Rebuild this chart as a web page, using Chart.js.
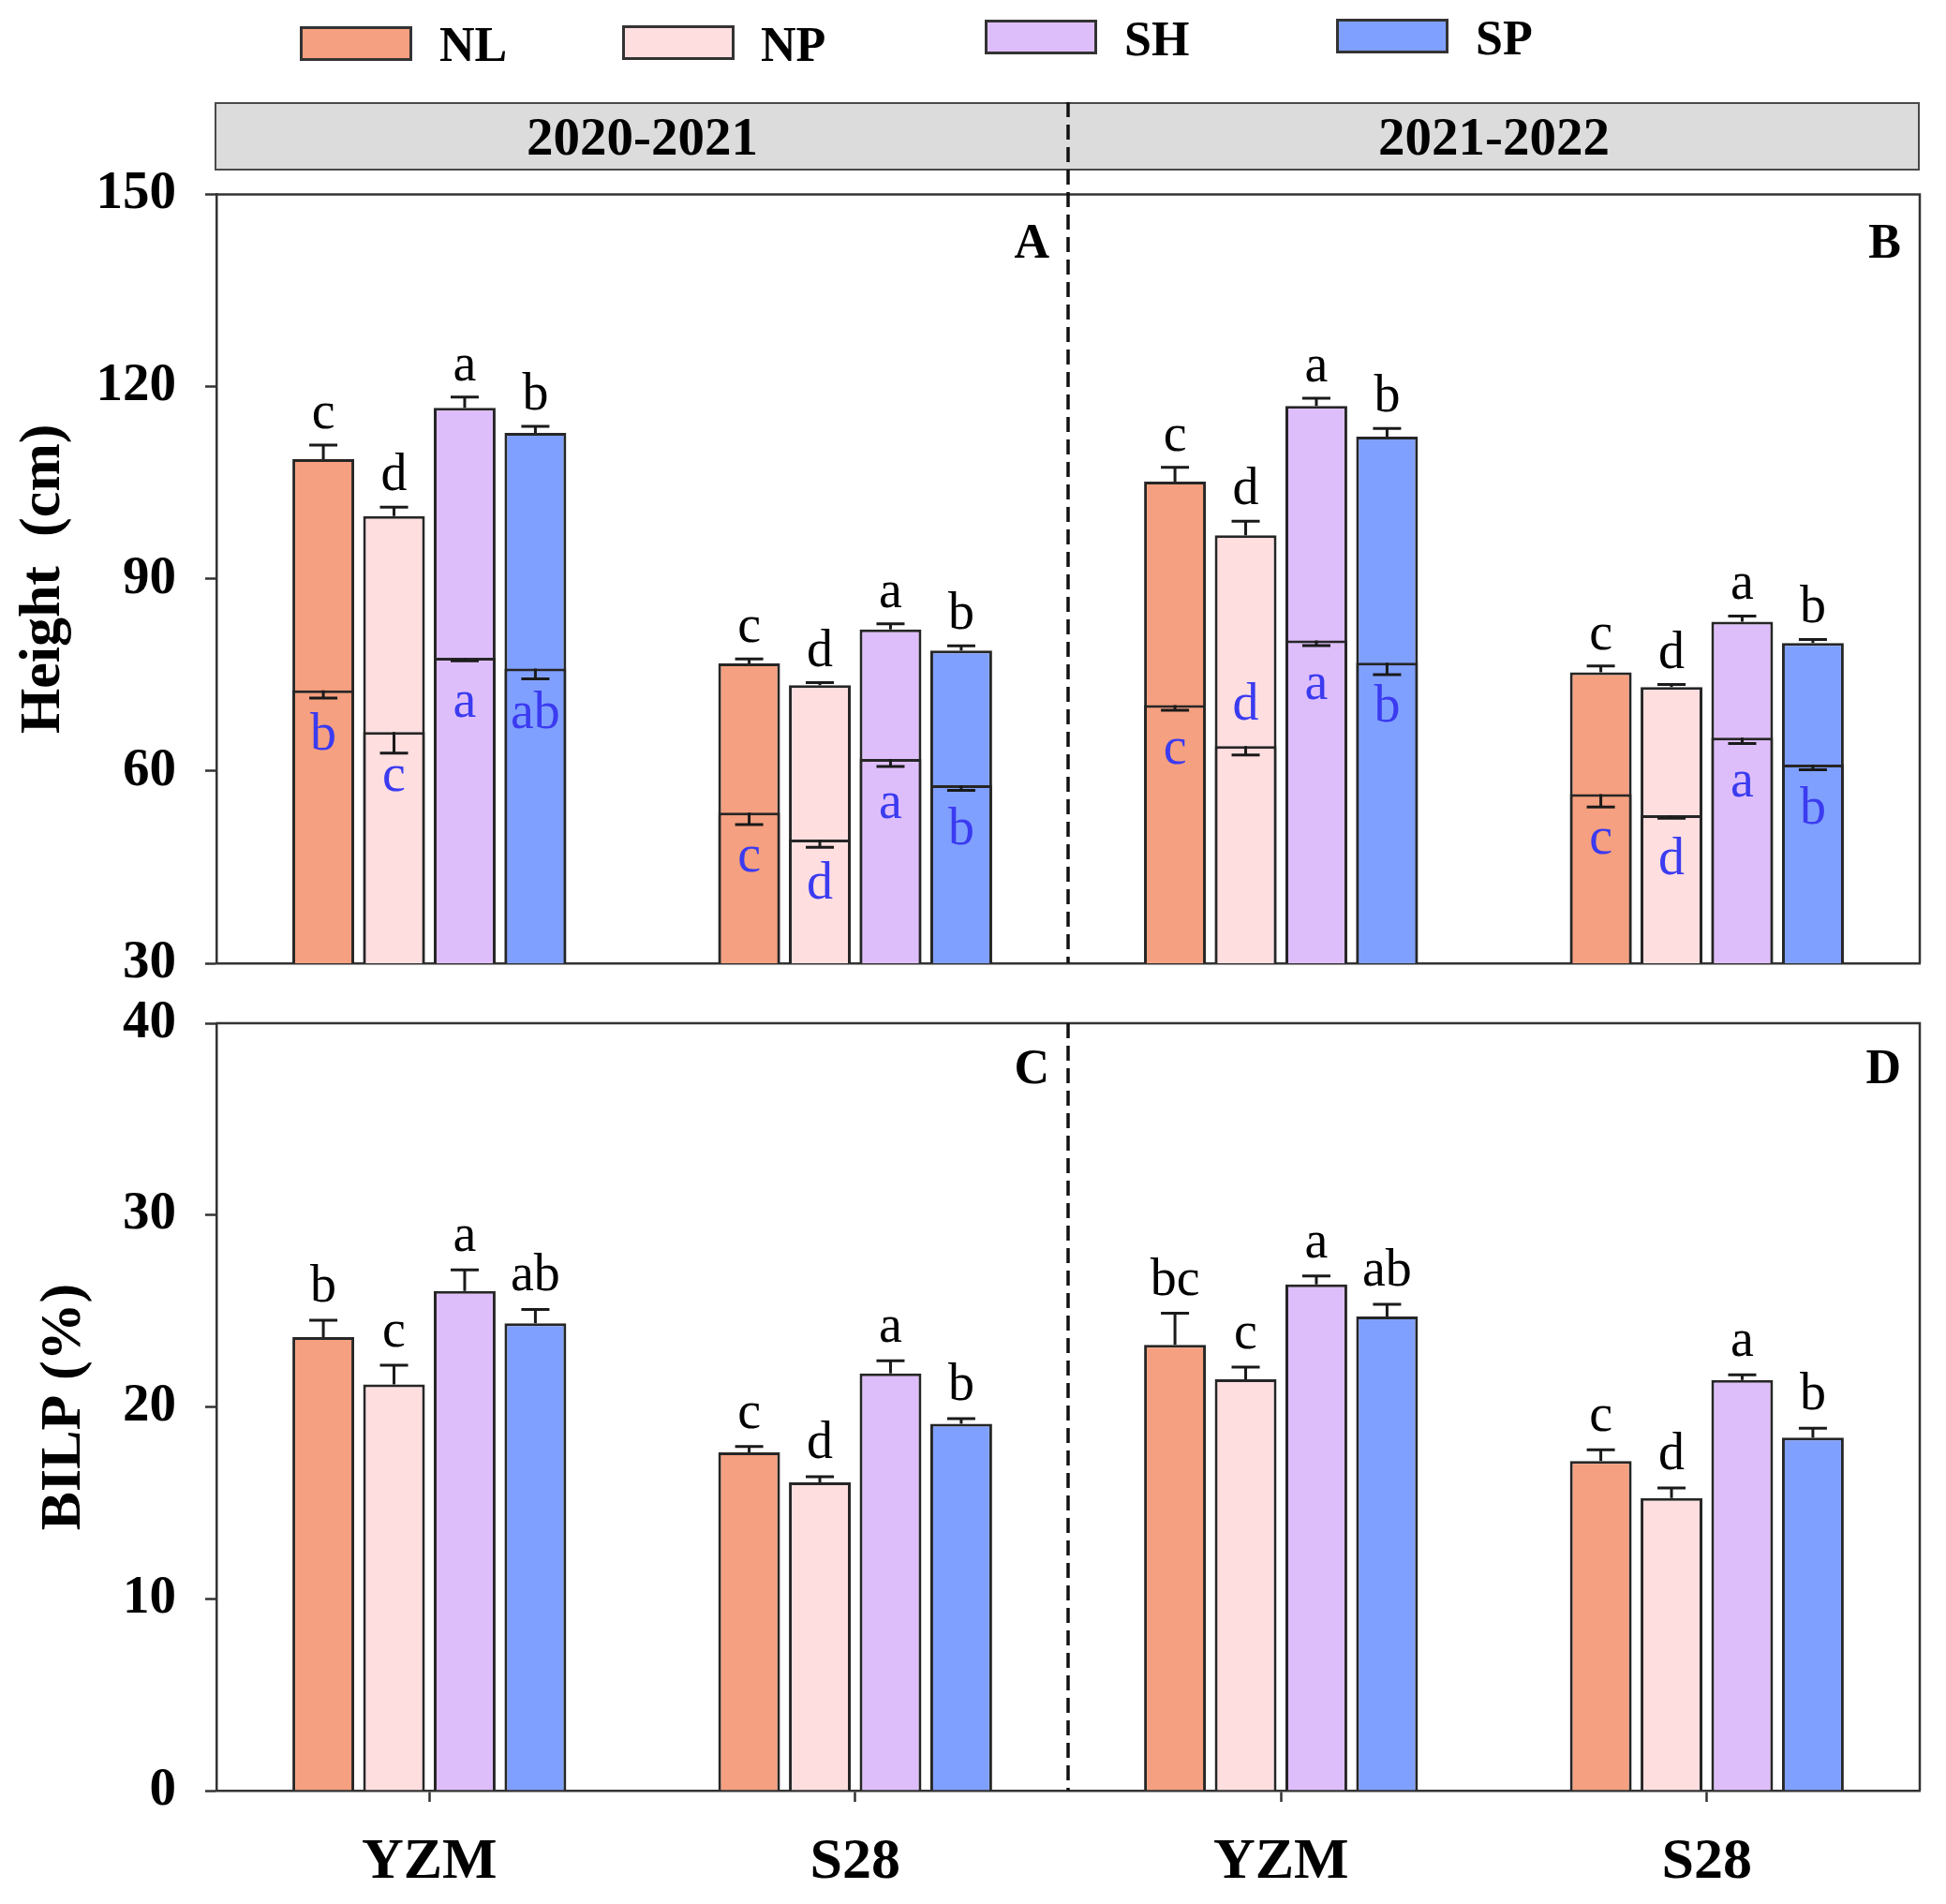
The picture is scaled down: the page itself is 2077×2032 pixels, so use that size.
<!DOCTYPE html>
<html>
<head>
<meta charset="utf-8">
<script src="https://cdn.jsdelivr.net/npm/chart.js@4.4.1/dist/chart.umd.min.js"></script>
<style>
html, body { margin: 0; padding: 0; background: #fff; }
#wrap { position: relative; width: 2077px; height: 2032px; overflow: hidden; font-family: "Liberation Serif", "Times New Roman", serif; }
.strip { position: absolute; left: 229px; top: 109px; width: 1820px; height: 73px; background: #dcdcdc; border: 2px solid #4a4a4a; box-sizing: border-box; z-index: 0; }
.stripText { position: absolute; top: 109px; height: 73px; line-height: 73px; font-weight: bold; font-size: 57px; text-align: center; color: #000; z-index: 2; }
.legBox { position: absolute; width: 120px; height: 37px; border: 3px solid #333; box-sizing: border-box; z-index: 2; }
.legText { position: absolute; font-weight: bold; font-size: 52px; line-height: 52px; color: #000; z-index: 2; }
canvas { position: absolute; left: 0; z-index: 1; }
#c1 { top: 0; }
#c2 { top: 1020px; }
</style>
</head>
<body>
<div id="wrap">
  <div class="strip"></div>
  <canvas id="c1" width="2077" height="1100" style="width:2077px;height:1100px"></canvas>
  <canvas id="c2" width="2077" height="1012" style="width:2077px;height:1012px"></canvas>
</div>
<script>
// ---------------- data ----------------
const categories = ['YZM', 'S28', 'YZM', 'S28'];
const seasons = ['2020-2021', '2021-2022'];
const treatments = ['NL', 'NP', 'SH', 'SP'];

// Plant height (cm) - full bar
const heightNL = [108.7, 76.8, 105.2, 75.4];
const heightNP = [99.8, 73.4, 96.8, 73.1];
const heightSH = [116.7, 82.1, 117.0, 83.3];
const heightSP = [112.8, 78.8, 112.2, 80.0];
const heightErrNL = [2.2, 0.7, 2.2, 1.0];
const heightErrNP = [1.4, 0.4, 2.2, 0.4];
const heightErrSH = [1.7, 0.9, 1.2, 0.9];
const heightErrSP = [1.0, 0.75, 1.3, 0.55];
const heightLetNL = ['c', 'c', 'c', 'c'];
const heightLetNP = ['d', 'd', 'd', 'd'];
const heightLetSH = ['a', 'a', 'a', 'a'];
const heightLetSP = ['b', 'b', 'b', 'b'];

// Inner (lower) height (cm)
const innerNL = [72.6, 53.5, 70.3, 56.4];
const innerNP = [66.1, 49.3, 63.9, 53.1];
const innerSH = [77.7, 61.9, 80.4, 65.2];
const innerSP = [76.0, 57.8, 76.9, 61.0];
const innerErrNL = [1.2, 1.85, 0.8, 2.0];
const innerErrNP = [3.3, 1.2, 1.4, 0.45];
const innerErrSH = [0.5, 1.2, 0.8, 0.9];
const innerErrSP = [1.6, 0.8, 1.85, 0.8];
const innerLetNL = ['b', 'c', 'c', 'c'];
const innerLetNP = ['c', 'd', 'd', 'd'];
const innerLetSH = ['a', 'a', 'a', 'a'];
const innerLetSP = ['ab', 'b', 'b', 'b'];

// BILP (%)
const bilpNL = [23.64, 17.63, 23.23, 17.18];
const bilpNP = [21.17, 16.07, 21.44, 15.25];
const bilpSH = [26.05, 21.75, 26.38, 21.40];
const bilpSP = [24.36, 19.12, 24.71, 18.40];
const bilpErrNL = [0.88, 0.31, 1.65, 0.58];
const bilpErrNP = [1.0, 0.29, 0.64, 0.53];
const bilpErrSH = [1.09, 0.66, 0.45, 0.27];
const bilpErrSP = [0.72, 0.27, 0.64, 0.49];
const bilpLetNL = ['b', 'c', 'bc', 'c'];
const bilpLetNP = ['c', 'd', 'c', 'd'];
const bilpLetSH = ['a', 'a', 'a', 'a'];
const bilpLetSP = ['ab', 'b', 'ab', 'b'];

const heightTicks = [30, 60, 90, 120, 150];
const bilpTicks = [0, 10, 20, 30, 40];
const panelTop = ['A', 'B'];
const panelBottom = ['C', 'D'];

// ---------------- style ----------------
const FONT = '"Liberation Serif", "Times New Roman", serif';
const colors = { NL: '#F5A080', NP: '#FFDEE0', SH: '#DEBEFA', SP: '#80A0FF' };
const EDGE = '#262626';
const AXIS = '#333333';
const LETTER_BLUE = '#3b3bf0';
const CAT_PCT = 0.664, BAR_PCT = 0.874;
// blue letter placed above the inner line for these bars
const innerAbove = { NL: [false, false, false, false], NP: [false, false, true, false], SH: [false, false, false, false], SP: [false, false, false, false] };

const heightAll = { NL: heightNL, NP: heightNP, SH: heightSH, SP: heightSP };
const heightErr = { NL: heightErrNL, NP: heightErrNP, SH: heightErrSH, SP: heightErrSP };
const heightLet = { NL: heightLetNL, NP: heightLetNP, SH: heightLetSH, SP: heightLetSP };
const innerAll = { NL: innerNL, NP: innerNP, SH: innerSH, SP: innerSP };
const innerErr = { NL: innerErrNL, NP: innerErrNP, SH: innerErrSH, SP: innerErrSP };
const innerLet = { NL: innerLetNL, NP: innerLetNP, SH: innerLetSH, SP: innerLetSP };
const bilpAll = { NL: bilpNL, NP: bilpNP, SH: bilpSH, SP: bilpSP };
const bilpErr = { NL: bilpErrNL, NP: bilpErrNP, SH: bilpErrSH, SP: bilpErrSP };
const bilpLet = { NL: bilpLetNL, NP: bilpLetNP, SH: bilpLetSH, SP: bilpLetSP };

// ---------------- HTML legend & header ----------------
const wrap = document.getElementById('wrap');
const legendPos = [
  { box: [320, 28], text: [469, 22] },
  { box: [664, 27], text: [812, 22] },
  { box: [1051, 21], text: [1200, 16] },
  { box: [1426, 20], text: [1575, 15] }
];
treatments.forEach((t, i) => {
  const b = document.createElement('div');
  b.className = 'legBox';
  b.style.left = legendPos[i].box[0] + 'px';
  b.style.top = legendPos[i].box[1] + 'px';
  b.style.background = colors[t];
  wrap.appendChild(b);
  const tx = document.createElement('div');
  tx.className = 'legText';
  tx.style.left = legendPos[i].text[0] + 'px';
  tx.style.top = legendPos[i].text[1] + 'px';
  tx.textContent = t;
  wrap.appendChild(tx);
});
seasons.forEach((s, i) => {
  const d = document.createElement('div');
  d.className = 'stripText';
  d.style.left = (i === 0 ? 231 : 1140) + 'px';
  d.style.width = '909px';
  d.textContent = s;
  wrap.appendChild(d);
});

// ---------------- helpers ----------------
function dividerX(xScale) {
  return (xScale.getPixelForValue(1) + xScale.getPixelForValue(2)) / 2;
}
function drawErr(ctx, x, y0, y1) {
  ctx.beginPath();
  ctx.moveTo(x, y0); ctx.lineTo(x, y1);
  ctx.moveTo(x - 15, y1); ctx.lineTo(x + 15, y1);
  ctx.stroke();
}
function drawFrame(chart, dashTop, labels, labelOffset) {
  const ctx = chart.ctx, ca = chart.chartArea;
  ctx.save();
  ctx.strokeStyle = AXIS;
  ctx.lineWidth = 2.5;
  ctx.beginPath();
  ctx.moveTo(ca.left, ca.top); ctx.lineTo(ca.right, ca.top); ctx.lineTo(ca.right, ca.bottom);
  ctx.stroke();
  const dx = dividerX(chart.scales.x);
  ctx.setLineDash([16, 8]);
  ctx.lineWidth = 3.5;
  ctx.strokeStyle = '#111';
  ctx.beginPath();
  ctx.moveTo(dx, dashTop); ctx.lineTo(dx, ca.bottom);
  ctx.stroke();
  ctx.setLineDash([]);
  ctx.fillStyle = '#000';
  ctx.font = 'bold 52px ' + FONT;
  ctx.textAlign = 'right';
  ctx.textBaseline = 'alphabetic';
  ctx.fillText(labels[0], dx - 20, ca.top + labelOffset);
  ctx.fillText(labels[1], ca.right - 20, ca.top + labelOffset);
  ctx.restore();
}

const heightPlugin = {
  id: 'heightMarks',
  afterDatasetsDraw(chart) {
    const ctx = chart.ctx, ys = chart.scales.y;
    ctx.save();
    ctx.strokeStyle = '#1a1a1a';
    ctx.lineWidth = 3;
    treatments.forEach((t, ti) => {
      const innerMeta = chart.getDatasetMeta(ti);
      const totalMeta = chart.getDatasetMeta(ti + 4);
      categories.forEach((c, i) => {
        const xe = totalMeta.data[i].x;
        const top = ys.getPixelForValue(heightAll[t][i]);
        const topE = ys.getPixelForValue(heightAll[t][i] + heightErr[t][i]);
        drawErr(ctx, xe, top, topE);
        const xi = innerMeta.data[i].x;
        const inn = ys.getPixelForValue(innerAll[t][i]);
        const innE = ys.getPixelForValue(innerAll[t][i] - innerErr[t][i]);
        drawErr(ctx, xi, inn, innE);
        ctx.textAlign = 'center';
        ctx.textBaseline = 'alphabetic';
        ctx.font = '56px ' + FONT;
        ctx.fillStyle = '#000';
        ctx.fillText(heightLet[t][i], xe, topE - 18);
        ctx.fillStyle = LETTER_BLUE;
        const by = innerAbove[t][i] ? inn - 28 : inn + 63;
        ctx.fillText(innerLet[t][i], xi, by);
      });
    });
    ctx.restore();
  },
  afterDraw(chart) { drawFrame(chart, 109, panelTop, 67); }
};

const bilpPlugin = {
  id: 'bilpMarks',
  afterDatasetsDraw(chart) {
    const ctx = chart.ctx, ys = chart.scales.y;
    ctx.save();
    ctx.strokeStyle = '#1a1a1a';
    ctx.lineWidth = 3;
    treatments.forEach((t, ti) => {
      const meta = chart.getDatasetMeta(ti);
      categories.forEach((c, i) => {
        const xe = meta.data[i].x;
        const top = ys.getPixelForValue(bilpAll[t][i]);
        const topE = ys.getPixelForValue(bilpAll[t][i] + bilpErr[t][i]);
        drawErr(ctx, xe, top, topE);
        ctx.textAlign = 'center';
        ctx.textBaseline = 'alphabetic';
        ctx.font = '56px ' + FONT;
        ctx.fillStyle = '#000';
        ctx.fillText(bilpLet[t][i], xe, topE - 20);
      });
    });
    ctx.restore();
  },
  afterDraw(chart) { drawFrame(chart, chart.chartArea.top, panelBottom, 64); }
};

function barStyle(t) {
  return {
    backgroundColor: colors[t], borderColor: EDGE, borderWidth: 3,
    categoryPercentage: CAT_PCT, barPercentage: BAR_PCT
  };
}
function yAxis(min, max, ticksArr, title, titlePad) {
  return {
    type: 'linear', min: min, max: max, stacked: false,
    afterBuildTicks: s => { s.ticks = ticksArr.map(v => ({ value: v })); },
    ticks: { color: '#000', padding: 31, font: { family: FONT, size: 57, weight: 'bold' } },
    grid: { drawOnChartArea: false, drawTicks: true, tickLength: 12, tickWidth: 2.5, tickColor: AXIS },
    border: { display: true, width: 2.5, color: AXIS },
    title: { display: true, text: title, color: '#000', font: { family: FONT, size: 62, weight: 'bold' }, padding: { top: titlePad, bottom: 0 } },
    afterFit: s => { s.width = 231; }
  };
}

// ---------------- chart 1: height ----------------
const ds1 = [];
treatments.forEach(t => ds1.push(Object.assign({ label: t + ' inner', data: innerAll[t], stack: t }, barStyle(t))));
treatments.forEach(t => ds1.push(Object.assign({ label: t, data: heightAll[t], stack: t }, barStyle(t))));

new Chart(document.getElementById('c1'), {
  type: 'bar',
  data: { labels: categories, datasets: ds1 },
  options: {
    responsive: false, animation: false, devicePixelRatio: 1,
    layout: { padding: { top: 207.6, right: 28, bottom: 72, left: 0 } },
    plugins: { legend: { display: false }, tooltip: { enabled: false } },
    scales: {
      x: {
        type: 'category', stacked: true, offset: true,
        grid: { display: true, drawOnChartArea: false, drawTicks: false, offset: false },
        border: { display: true, width: 2.5, color: AXIS },
        ticks: { display: false },
        afterFit: s => { s.height = 0; }
      },
      y: yAxis(30, 150, heightTicks, 'Height  (cm)', 10)
    }
  },
  plugins: [heightPlugin]
});

// ---------------- chart 2: BILP ----------------
const ds2 = treatments.map(t => Object.assign({ label: t, data: bilpAll[t] }, barStyle(t)));
new Chart(document.getElementById('c2'), {
  type: 'bar',
  data: { labels: categories, datasets: ds2 },
  options: {
    responsive: false, animation: false, devicePixelRatio: 1,
    layout: { padding: { top: 72, right: 28, bottom: 0, left: 0 } },
    plugins: { legend: { display: false }, tooltip: { enabled: false } },
    scales: {
      x: {
        type: 'category', offset: true,
        grid: { display: true, drawOnChartArea: false, drawTicks: true, tickLength: 12, tickWidth: 2.5, tickColor: AXIS, offset: false },
        border: { display: true, width: 2.5, color: AXIS },
        ticks: { color: '#000', padding: 28, maxRotation: 0, font: { family: FONT, size: 62, weight: 'bold' } },
        afterFit: s => { s.height = 121; }
      },
      y: yAxis(0, 40, bilpTicks, 'BILP (%)', 32)
    }
  },
  plugins: [bilpPlugin]
});
</script>
</body>
</html>
